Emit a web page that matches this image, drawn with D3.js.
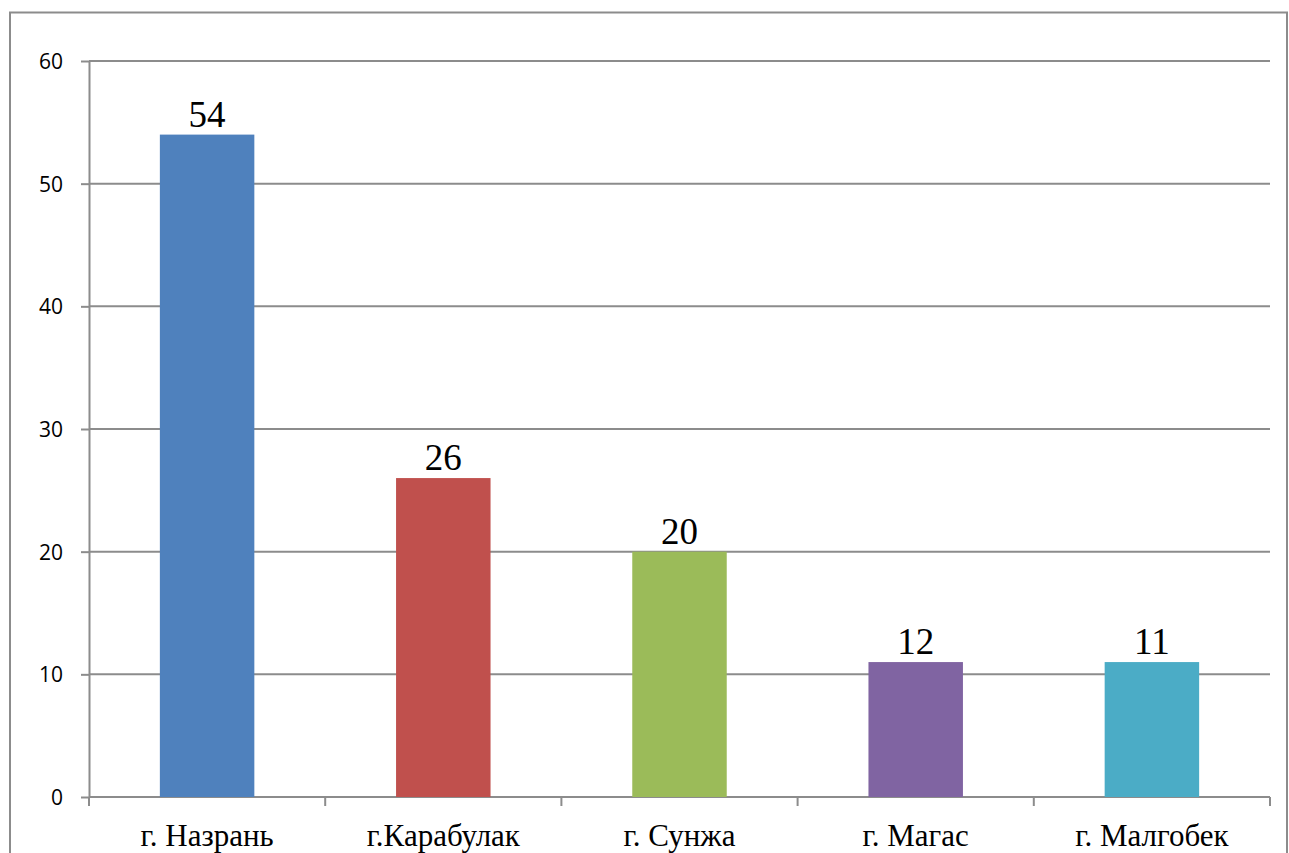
<!DOCTYPE html>
<html lang="ru">
<head>
<meta charset="UTF-8">
<title>Bar chart</title>
<script src="https://d3js.org/d3.v7.min.js"></script>
<style>
    body { margin: 0; background: #fff; }
    .grid line { stroke: #8c8c8c; stroke-width: 2px; }
    .axis path, .axis line { stroke: #8c8c8c; stroke-width: 2px; }
    .ytick text { font-family: "Open Sans", sans-serif; font-size: 21px; fill: #000; }
    .xlab { font-family: "Liberation Serif", serif; font-size: 31px; fill: #000; }
    .val { font-family: "Liberation Serif", serif; font-size: 37px; fill: #000; }
</style>
</head>
<body>
<svg width="1289" height="853"></svg>
<script>
    // chart data
    const categories = ["г. Назрань", "г.Карабулак", "г. Сунжа", "г. Магас", "г. Малгобек"];
    const values = [54, 26, 20, 11, 11];
    const valueLabels = ["54", "26", "20", "12", "11"];
    const colors = ["#4F81BD", "#C0504D", "#9BBB59", "#8064A2", "#4BACC6"];
    const yTicks = [0, 10, 20, 30, 40, 50, 60];

    const svg = d3.select("svg");

    // outer frame (bottom edge is cut off by the window)
    svg.append("path")
        .attr("d", "M10,870 L10,12.5 L1287,12.5 L1287,870")
        .attr("fill", "none")
        .attr("stroke", "#8c8c8c")
        .attr("stroke-width", 2);

    const plotLeft = 89, plotRight = 1270, plotTop = 61, plotBottom = 797;

    const x = d3.scaleBand().domain(categories).range([plotLeft, plotRight]);
    const y = d3.scaleLinear().domain([0, 60]).range([plotBottom, plotTop]);

    // horizontal gridlines
    svg.append("g").attr("class", "grid")
        .selectAll("line")
        .data(yTicks.filter(d => d > 0))
        .join("line")
        .attr("x1", plotLeft).attr("x2", plotRight)
        .attr("y1", d => y(d)).attr("y2", d => y(d));

    // y axis
    const yAxis = svg.append("g")
        .attr("class", "axis ytick")
        .attr("transform", `translate(${plotLeft},0)`)
        .call(d3.axisLeft(y).tickValues(yTicks).tickSize(8).tickSizeOuter(0).tickPadding(18));
    yAxis.selectAll("text").attr("dy", "0.35em");

    // x axis: ticks at band boundaries
    const xa = svg.append("g").attr("class", "axis");
    xa.append("line")
        .attr("x1", plotLeft).attr("x2", plotRight)
        .attr("y1", plotBottom).attr("y2", plotBottom);
    const bounds = categories.map(c => x(c)).concat([plotRight]);
    xa.selectAll(".xt")
        .data(bounds)
        .join("line")
        .attr("class", "xt")
        .attr("x1", d => d).attr("x2", d => d)
        .attr("y1", plotBottom).attr("y2", plotBottom + 9);

    // bars
    const bw = x.bandwidth() * 0.4;
    svg.append("g")
        .selectAll("rect")
        .data(values)
        .join("rect")
        .attr("x", (d, i) => x(categories[i]) + (x.bandwidth() - bw) / 2)
        .attr("y", d => y(d))
        .attr("width", bw)
        .attr("height", d => y(0) - y(d))
        .attr("fill", (d, i) => colors[i]);

    // value labels
    svg.append("g")
        .selectAll("text")
        .data(values)
        .join("text")
        .attr("class", "val")
        .attr("text-anchor", "middle")
        .attr("x", (d, i) => x(categories[i]) + x.bandwidth() / 2)
        .attr("y", d => y(d) - 8)
        .text((d, i) => valueLabels[i]);

    // category labels
    svg.append("g")
        .selectAll("text")
        .data(categories)
        .join("text")
        .attr("class", "xlab")
        .attr("text-anchor", "middle")
        .attr("x", d => x(d) + x.bandwidth() / 2)
        .attr("y", 846)
        .text(d => d);
</script>
</body>
</html>
